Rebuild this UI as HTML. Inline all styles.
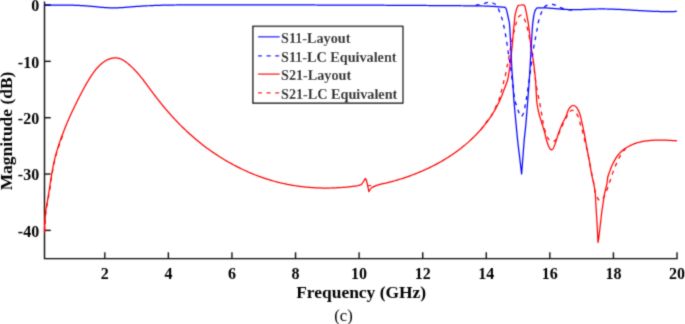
<!DOCTYPE html>
<html><head><meta charset="utf-8"><style>
html,body{margin:0;padding:0;background:#fff;}
body{width:685px;height:324px;overflow:hidden;position:relative;font-family:"Liberation Serif",serif;}
svg{will-change:transform;}
</style></head><body>
<svg width="685" height="324" viewBox="0 0 685 324" style="position:absolute;left:0;top:0"><defs><filter id="bl" x="0" y="0" width="685" height="324" filterUnits="userSpaceOnUse"><feConvolveMatrix order="3" kernelMatrix="0.03 0.1 0.03 0.1 0.48 0.1 0.03 0.1 0.03" divisor="1" edgeMode="none" preserveAlpha="false"/></filter></defs><g filter="url(#bl)"><g stroke="#111111" stroke-width="1.4" fill="none"><path d="M44.5,2.2 L44.5,258.6 L677.0,258.6" stroke-linecap="square"/><line x1="104.80" y1="258.6" x2="104.80" y2="252.30"/><line x1="168.38" y1="258.6" x2="168.38" y2="252.30"/><line x1="231.96" y1="258.6" x2="231.96" y2="252.30"/><line x1="295.54" y1="258.6" x2="295.54" y2="252.30"/><line x1="359.12" y1="258.6" x2="359.12" y2="252.30"/><line x1="422.70" y1="258.6" x2="422.70" y2="252.30"/><line x1="486.28" y1="258.6" x2="486.28" y2="252.30"/><line x1="549.86" y1="258.6" x2="549.86" y2="252.30"/><line x1="613.44" y1="258.6" x2="613.44" y2="252.30"/><line x1="677.02" y1="258.6" x2="677.02" y2="252.30"/><line x1="44.5" y1="5.00" x2="50.80" y2="5.00"/><line x1="44.5" y1="61.35" x2="50.80" y2="61.35"/><line x1="44.5" y1="117.70" x2="50.80" y2="117.70"/><line x1="44.5" y1="174.05" x2="50.80" y2="174.05"/><line x1="44.5" y1="230.40" x2="50.80" y2="230.40"/></g><g fill="none" stroke-linejoin="round" stroke-linecap="butt" stroke-width="1.25"><path d="M368.3,185.7 L371.2,185.5" stroke="#ff0000"/><path d="M480.60,130.00 C481.50,128.75 484.37,124.62 486.00,122.50 C487.63,120.38 488.98,119.47 490.40,117.30 C491.82,115.13 493.08,112.38 494.50,109.50 C495.92,106.62 497.78,102.92 498.90,100.00 C500.02,97.08 500.42,94.97 501.20,92.00 C501.98,89.03 502.88,85.07 503.60,82.20 C504.32,79.33 504.88,77.58 505.50,74.80 C506.12,72.02 506.75,68.33 507.30,65.50 C507.85,62.67 508.27,60.72 508.80,57.80 C509.33,54.88 509.97,50.97 510.50,48.00 C511.03,45.03 511.48,42.50 512.00,40.00 C512.52,37.50 513.07,35.17 513.60,33.00 C514.13,30.83 514.75,28.73 515.20,27.00 C515.65,25.27 515.82,24.17 516.30,22.60 C516.78,21.03 517.48,18.77 518.10,17.60 C518.72,16.43 519.43,16.00 520.00,15.60 C520.57,15.20 521.00,15.08 521.50,15.20 C522.00,15.32 522.52,15.62 523.00,16.30 C523.48,16.98 523.92,18.18 524.40,19.30 C524.88,20.42 525.37,21.38 525.90,23.00 C526.43,24.62 527.03,26.67 527.60,29.00 C528.17,31.33 528.65,33.50 529.30,37.00 C529.95,40.50 530.80,45.50 531.50,50.00 C532.20,54.50 532.92,59.67 533.50,64.00 C534.08,68.33 534.48,72.12 535.00,76.00 C535.52,79.88 536.07,84.05 536.60,87.30 C537.13,90.55 537.68,92.92 538.20,95.50 C538.72,98.08 539.23,100.38 539.70,102.80 C540.17,105.22 540.55,107.47 541.00,110.00 C541.45,112.53 541.92,115.17 542.40,118.00 C542.88,120.83 543.02,123.70 543.90,127.00 C544.78,130.30 546.60,135.50 547.70,137.80 C548.80,140.10 549.60,140.17 550.50,140.80 C551.40,141.43 552.35,141.65 553.10,141.60 C553.85,141.55 554.35,141.13 555.00,140.50 C555.65,139.87 555.77,140.32 557.00,137.80 C558.23,135.28 560.73,129.00 562.40,125.40 C564.07,121.80 565.87,118.38 567.00,116.20 C568.13,114.02 568.38,113.27 569.20,112.30 C570.02,111.33 570.93,110.58 571.90,110.40 C572.87,110.22 573.97,110.17 575.00,111.20 C576.03,112.23 577.20,114.42 578.10,116.60 C579.00,118.78 579.63,121.73 580.40,124.30 C581.17,126.87 581.93,129.17 582.70,132.00 C583.47,134.83 584.20,137.97 585.00,141.30 C585.80,144.63 586.67,148.10 587.50,152.00 C588.33,155.90 589.25,160.87 590.00,164.70 C590.75,168.53 591.35,171.73 592.00,175.00 C592.65,178.27 593.35,181.38 593.90,184.30 C594.45,187.22 594.68,190.20 595.30,192.50 C595.92,194.80 596.90,196.78 597.60,198.10 C598.30,199.42 598.88,199.98 599.50,200.40 C600.12,200.82 600.63,201.03 601.30,200.60 C601.97,200.17 602.80,198.98 603.50,197.80 C604.20,196.62 604.87,194.97 605.50,193.50 C606.13,192.03 606.75,190.50 607.30,189.00 C607.85,187.50 608.27,186.08 608.80,184.50 C609.33,182.92 609.73,181.75 610.50,179.50 C611.27,177.25 612.35,173.78 613.40,171.00 C614.45,168.22 615.62,165.40 616.80,162.80 C617.98,160.20 619.13,157.67 620.50,155.40 C621.87,153.13 623.42,150.80 625.00,149.20 C626.58,147.60 629.17,146.37 630.00,145.80" stroke="#ff0000" stroke-dasharray="4 4.6"/><path d="M44.75,232.50 C44.78,231.42 44.87,228.08 44.95,226.00 C45.03,223.92 45.08,222.33 45.25,220.00 C45.42,217.67 45.68,214.33 45.95,212.00 C46.22,209.67 46.52,208.00 46.85,206.00 C47.18,204.00 47.62,201.83 47.95,200.00 C48.28,198.17 48.52,196.95 48.85,195.00 C49.18,193.05 49.65,190.37 49.95,188.30 C50.25,186.23 50.32,184.92 50.65,182.60 C50.98,180.28 51.58,176.50 51.95,174.40 C52.32,172.30 52.52,171.73 52.85,170.00 C53.18,168.27 53.50,166.17 53.95,164.00 C54.40,161.83 55.05,159.00 55.55,157.00 C56.05,155.00 56.45,153.67 56.95,152.00 C57.45,150.33 57.87,149.00 58.55,147.00 C59.23,145.00 60.33,142.08 61.05,140.00 C61.77,137.92 62.55,135.42 62.85,134.50" stroke="#ff0000" stroke-dasharray="4 4.6"/><path d="M44.40,232.50 L44.44,231.26 L44.47,230.07 L44.51,228.92 L44.55,227.82 L44.59,226.76 L44.63,225.75 L44.67,224.77 L44.71,223.84 L44.75,222.94 L44.79,222.08 L44.83,221.26 L44.87,220.47 L44.91,219.72 L44.96,218.99 L45.02,217.97 L45.09,217.01 L45.15,216.11 L45.22,215.27 L45.29,214.49 L45.36,213.75 L45.46,212.84 L45.56,212.00 L45.66,211.22 L45.76,210.49 L45.89,209.64 L46.03,208.83 L46.17,208.05 L46.32,207.27 L46.46,206.49 L46.62,205.67 L46.78,204.82 L46.90,204.11 L47.04,203.37 L47.17,202.61 L47.31,201.82 L47.45,201.01 L47.60,200.16 L47.75,199.29 L47.90,198.39 L48.01,197.69 L48.13,196.98 L48.25,196.25 L48.37,195.50 L48.50,194.73 L48.63,193.94 L48.75,193.13 L48.89,192.31 L49.02,191.46 L49.15,190.60 L49.29,189.71 L49.43,188.80 L49.58,187.88 L49.72,186.93 L49.87,185.96 L50.02,184.97 L50.17,183.97 L50.33,182.95 L50.49,181.91 L50.60,181.22 L50.70,180.52 L50.81,179.81 L50.92,179.10 L51.04,178.39 L51.15,177.68 L51.27,176.96 L51.38,176.24 L51.50,175.51 L51.62,174.79 L51.74,174.07 L51.86,173.34 L51.98,172.62 L52.11,171.90 L52.23,171.17 L52.36,170.45 L52.49,169.73 L52.62,169.02 L52.75,168.31 L52.89,167.60 L53.02,166.89 L53.16,166.19 L53.30,165.49 L53.43,164.80 L53.65,163.78 L53.86,162.77 L54.08,161.77 L54.31,160.78 L54.54,159.81 L54.77,158.85 L55.00,157.89 L55.24,156.95 L55.49,156.01 L55.74,155.08 L55.99,154.15 L56.24,153.23 L56.51,152.31 L56.77,151.40 L57.04,150.48 L57.32,149.57 L57.60,148.66 L57.88,147.74 L58.17,146.83 L58.40,146.12 L58.67,145.30 L58.97,144.37 L59.28,143.44 L59.60,142.51 L59.92,141.58 L60.24,140.64 L60.57,139.69 L60.91,138.74 L61.25,137.79 L61.60,136.83 L61.95,135.87 L62.32,134.90 L62.68,133.92 L63.06,132.94 L63.31,132.28 L63.56,131.62 L63.82,130.96 L64.08,130.30 L64.35,129.63 L64.62,128.96 L64.89,128.28 L65.16,127.60 L65.44,126.92 L65.72,126.24 L66.00,125.55 L66.29,124.86 L66.58,124.17 L66.87,123.47 L67.17,122.77 L67.47,122.07 L67.77,121.36 L68.08,120.65 L68.39,119.93 L68.71,119.21 L69.02,118.49 L69.34,117.76 L69.67,117.03 L70.00,116.29 L70.33,115.56 L70.67,114.81 L71.01,114.07 L71.35,113.31 L71.70,112.56 L72.06,111.80 L72.40,111.06 L72.77,110.26 L73.14,109.49 L73.51,108.71 L73.88,107.93 L74.26,107.14 L74.64,106.35 L75.03,105.55 L75.40,104.79 L75.82,103.94 L76.22,103.12 L76.62,102.31 L77.03,101.48 L77.40,100.74 L77.86,99.82 L78.29,98.98 L78.72,98.14 L79.15,97.29 L79.59,96.43 L80.03,95.57 L80.40,94.86 L80.94,93.83 L81.40,92.96 L81.86,92.07 L82.33,91.18 L82.81,90.29 L83.29,89.39 L83.77,88.48 L84.27,87.57 L84.77,86.66 L85.27,85.75 L85.78,84.84 L86.29,83.92 L86.82,83.01 L87.34,82.10 L87.88,81.20 L88.40,80.32 L88.96,79.40 L89.40,78.69 L89.79,78.06 L90.36,77.18 L90.92,76.31 L91.40,75.59 L92.08,74.59 L92.67,73.74 L93.27,72.91 L93.87,72.09 L94.40,71.39 L95.09,70.49 L95.72,69.72 L96.35,68.96 L96.98,68.21 L97.63,67.49 L98.28,66.78 L98.94,66.10 L99.61,65.43 L100.29,64.79 L100.97,64.16 L101.66,63.57 L102.36,62.99 L103.07,62.44 L103.78,61.92 L104.40,61.50 L105.24,60.96 L105.98,60.52 L106.73,60.12 L107.40,59.78 L108.25,59.39 L109.03,59.08 L109.81,58.80 L110.61,58.56 L111.40,58.35 L112.22,58.17 L113.04,58.04 L113.88,57.94 L114.72,57.89 L115.57,57.89 L116.40,57.93 L117.30,58.03 L118.18,58.19 L119.07,58.41 L119.97,58.69 L120.88,59.03 L121.80,59.45 L122.73,59.93 L123.40,60.31 L124.15,60.78 L125.11,61.42 L126.08,62.12 L127.06,62.88 L128.06,63.68 L129.06,64.53 L130.08,65.43 L131.11,66.37 L131.63,66.85 L132.15,67.35 L132.67,67.86 L133.20,68.39 L133.73,68.92 L134.26,69.47 L134.80,70.03 L135.34,70.60 L135.88,71.18 L136.40,71.75 L136.98,72.39 L137.53,73.01 L138.09,73.65 L138.65,74.29 L139.21,74.96 L139.77,75.63 L140.34,76.32 L140.91,77.03 L141.40,77.63 L142.07,78.47 L142.65,79.22 L143.23,79.98 L143.82,80.75 L144.40,81.51 L145.01,82.32 L145.61,83.12 L146.21,83.92 L146.82,84.74 L147.40,85.53 L148.04,86.40 L148.65,87.23 L149.27,88.07 L149.90,88.92 L150.40,89.60 L151.15,90.62 L151.79,91.47 L152.40,92.29 L153.07,93.18 L153.71,94.04 L154.36,94.89 L155.01,95.75 L155.67,96.61 L156.33,97.46 L156.99,98.32 L157.66,99.18 L158.33,100.03 L159.01,100.89 L159.69,101.74 L160.37,102.60 L161.06,103.45 L161.75,104.30 L162.40,105.10 L163.15,106.01 L163.85,106.86 L164.40,107.52 L165.27,108.55 L165.98,109.40 L166.70,110.24 L167.40,111.05 L168.16,111.92 L168.89,112.76 L169.40,113.35 L170.37,114.44 L171.11,115.27 L171.86,116.10 L172.40,116.70 L173.37,117.76 L174.13,118.58 L174.90,119.41 L175.40,119.94 L176.40,121.00 L177.23,121.86 L178.01,122.68 L178.80,123.49 L179.40,124.10 L180.39,125.10 L181.20,125.90 L182.00,126.70 L182.81,127.50 L183.40,128.07 L184.40,129.03 L185.28,129.87 L186.11,130.66 L186.95,131.44 L187.79,132.22 L188.40,132.78 L189.40,133.69 L190.34,134.54 L191.20,135.30 L192.06,136.06 L192.93,136.82 L193.81,137.58 L194.40,138.09 L195.40,138.93 L196.40,139.77 L197.36,140.57 L198.26,141.31 L199.17,142.04 L200.08,142.78 L200.99,143.50 L201.92,144.23 L202.84,144.95 L203.40,145.38 L204.40,146.14 L205.40,146.90 L206.40,147.64 L207.40,148.38 L208.40,149.11 L209.40,149.83 L210.40,150.54 L211.40,151.25 L212.40,151.94 L213.40,152.63 L214.39,153.30 L215.39,153.97 L216.40,154.64 L217.40,155.30 L218.40,155.94 L219.40,156.58 L220.40,157.21 L221.40,157.84 L222.40,158.46 L223.40,159.07 L224.40,159.67 L225.40,160.26 L226.40,160.85 L227.40,161.43 L228.40,162.01 L229.40,162.57 L230.40,163.13 L231.09,163.51 L232.18,164.11 L233.28,164.71 L234.39,165.30 L235.40,165.83 L236.40,166.35 L237.40,166.86 L238.40,167.37 L239.40,167.87 L240.03,168.18 L241.18,168.74 L242.33,169.29 L243.40,169.80 L244.40,170.27 L245.40,170.73 L246.40,171.18 L247.40,171.63 L248.20,171.98 L249.39,172.49 L250.40,172.93 L251.40,173.35 L252.40,173.76 L253.40,174.17 L254.24,174.50 L255.40,174.96 L256.40,175.35 L257.40,175.73 L258.40,176.11 L259.19,176.40 L260.40,176.84 L261.40,177.20 L262.40,177.55 L263.40,177.89 L264.27,178.19 L265.40,178.56 L266.40,178.89 L267.40,179.21 L268.15,179.44 L269.40,179.83 L270.40,180.13 L271.40,180.42 L272.10,180.62 L273.40,180.99 L274.40,181.27 L275.40,181.54 L276.12,181.73 L277.40,182.07 L278.40,182.32 L279.40,182.57 L280.21,182.76 L281.40,183.04 L282.40,183.27 L283.40,183.50 L284.37,183.71 L285.40,183.93 L286.40,184.14 L287.18,184.29 L288.40,184.53 L289.40,184.72 L290.40,184.91 L291.40,185.09 L292.40,185.26 L293.40,185.43 L294.36,185.58 L295.40,185.75 L296.40,185.90 L297.29,186.03 L298.40,186.18 L299.40,186.32 L300.25,186.43 L301.40,186.58 L302.40,186.69 L303.25,186.79 L304.40,186.92 L305.40,187.02 L306.28,187.11 L307.40,187.21 L308.40,187.30 L309.34,187.38 L310.40,187.46 L311.40,187.54 L312.40,187.60 L313.40,187.67 L314.40,187.73 L315.40,187.78 L316.40,187.83 L317.17,187.86 L318.40,187.91 L319.40,187.94 L320.36,187.97 L321.40,187.99 L322.40,188.01 L323.40,188.03 L324.40,188.04 L325.22,188.04 L326.40,188.04 L327.40,188.04 L328.40,188.03 L329.40,188.02 L330.16,188.00 L331.40,187.97 L332.40,187.95 L333.40,187.92 L334.40,187.88 L335.19,187.85 L336.40,187.79 L337.40,187.74 L338.40,187.69 L339.40,187.63 L340.31,187.57 L341.40,187.50 L342.40,187.43 L343.40,187.35 L344.40,187.27 L345.40,187.19 L346.40,187.10 L347.27,187.02 L348.40,186.91 L349.40,186.81 L350.40,186.70 L351.40,186.59 L352.40,186.48 L353.40,186.36 L354.39,186.24 L355.40,186.11 L356.20,186.01 C357.03,185.78 360.37,184.92 361.20,184.70 C361.58,184.17 362.80,182.53 363.50,181.50 C364.20,180.47 365.08,179.00 365.40,178.50 C365.60,178.88 366.02,178.62 366.60,180.80 C367.18,182.98 368.52,189.80 368.90,191.60 C369.28,191.02 370.10,189.07 371.20,188.10 C372.30,187.13 374.03,186.42 375.50,185.80 C376.97,185.18 378.25,184.85 380.00,184.40 C381.75,183.95 385.00,183.32 386.00,183.10 L387.47,182.73 L388.94,182.35 L390.41,181.97 L391.87,181.57 L393.34,181.16 L394.80,180.75 L396.27,180.33 L397.73,179.89 L399.19,179.45 L400.64,178.99 L402.10,178.53 L403.55,178.06 L405.00,177.58 L406.45,177.08 L407.89,176.58 L409.33,176.07 L410.77,175.55 L412.21,175.02 L413.64,174.47 L415.07,173.92 L416.49,173.36 L417.91,172.79 L419.33,172.20 L420.74,171.61 L422.15,171.00 L423.55,170.39 L424.95,169.76 L426.35,169.13 L427.74,168.48 L429.12,167.82 L430.50,167.16 L431.87,166.48 L433.24,165.79 L434.60,165.09 L435.96,164.37 L437.31,163.65 L438.66,162.92 L439.99,162.17 L441.32,161.42 L442.65,160.65 L443.97,159.87 L445.28,159.08 L446.58,158.28 L447.88,157.47 L449.17,156.64 L450.45,155.81 L451.72,154.96 L452.99,154.10 L454.25,153.23 L455.50,152.35 L456.74,151.45 L457.97,150.55 L459.19,149.63 L460.40,148.70 L461.61,147.76 L462.80,146.81 L463.98,145.85 L465.16,144.87 L466.32,143.89 L467.48,142.89 L468.62,141.88 L469.75,140.86 L470.87,139.83 L471.98,138.79 L473.08,137.74 L474.16,136.67 L475.24,135.60 L476.30,134.51 L477.35,133.41 L478.38,132.30 L479.41,131.18 L480.42,130.05 L481.41,128.90 L482.40,127.75 L483.37,126.58 L484.32,125.40 L485.26,124.21 L486.19,123.01 L487.10,121.80 L488.00,120.58 L488.88,119.35 L489.75,118.10 L490.61,116.85 L491.44,115.58 L492.26,114.30 L493.07,113.01 L493.86,111.72 L494.63,110.40 L495.39,109.08 L496.12,107.75 L496.85,106.41 L497.55,105.05 L498.24,103.68 L498.91,102.31 L499.56,100.92 L500.19,99.52 L500.81,98.11 L501.40,96.69 L501.98,95.26 L502.54,93.82 L503.08,92.36 L503.60,90.90 C504.27,89.08 506.63,83.48 507.60,80.00 C508.57,76.52 508.82,73.97 509.40,70.00 C509.98,66.03 510.58,60.70 511.10,56.20 C511.62,51.70 512.10,47.37 512.50,43.00 C512.90,38.63 513.22,33.17 513.50,30.00 C513.78,26.83 513.97,26.28 514.20,24.00 C514.43,21.72 514.65,18.20 514.90,16.30 C515.15,14.40 515.38,13.90 515.70,12.60 C516.02,11.30 516.40,9.68 516.80,8.50 C517.20,7.32 517.88,6.00 518.10,5.50 C518.58,5.42 520.00,5.08 521.00,5.00 C522.00,4.92 523.58,5.00 524.10,5.00 C524.28,5.40 524.83,6.13 525.20,7.40 C525.57,8.67 525.95,10.87 526.30,12.60 C526.65,14.33 526.95,15.90 527.30,17.80 C527.65,19.70 528.08,21.97 528.40,24.00 C528.72,26.03 528.90,27.33 529.20,30.00 C529.50,32.67 529.80,36.67 530.20,40.00 C530.60,43.33 531.10,46.67 531.60,50.00 C532.10,53.33 532.72,56.67 533.20,60.00 C533.68,63.33 534.12,66.67 534.50,70.00 C534.88,73.33 535.23,76.67 535.50,80.00 C535.77,83.33 535.93,87.17 536.10,90.00 C536.27,92.83 536.37,94.83 536.50,97.00 C536.63,99.17 536.72,101.33 536.90,103.00 C537.08,104.67 537.35,105.67 537.60,107.00 C537.85,108.33 538.07,109.50 538.40,111.00 C538.73,112.50 539.18,114.50 539.60,116.00 C540.02,117.50 540.43,118.50 540.90,120.00 C541.37,121.50 541.90,123.35 542.40,125.00 C542.90,126.65 543.42,128.23 543.90,129.90 C544.38,131.57 544.88,133.35 545.30,135.00 C545.72,136.65 545.82,137.85 546.40,139.80 C546.98,141.75 548.07,145.07 548.80,146.70 C549.53,148.33 550.05,149.30 550.80,149.60 C551.55,149.90 552.47,149.82 553.30,148.50 C554.13,147.18 554.90,144.32 555.80,141.70 C556.70,139.08 557.72,135.60 558.70,132.80 C559.68,130.00 560.48,127.62 561.70,124.90 C562.92,122.18 564.93,118.90 566.00,116.50 C567.07,114.10 567.37,112.08 568.10,110.50 C568.83,108.92 569.50,107.83 570.40,107.00 C571.30,106.17 572.47,105.45 573.50,105.50 C574.53,105.55 575.57,105.97 576.60,107.30 C577.63,108.63 578.80,110.92 579.70,113.50 C580.60,116.08 581.23,119.45 582.00,122.80 C582.77,126.15 583.58,129.90 584.30,133.60 C585.02,137.30 585.73,141.88 586.30,145.00 C586.87,148.12 587.08,149.02 587.70,152.30 C588.32,155.58 589.32,160.92 590.00,164.70 C590.68,168.48 591.15,171.73 591.80,175.00 C592.45,178.27 593.32,181.22 593.90,184.30 C594.48,187.38 594.97,190.05 595.30,193.50 C595.63,196.95 595.62,200.25 595.90,205.00 C596.18,209.75 596.65,215.77 597.00,222.00 C597.35,228.23 597.83,239.00 598.00,242.40 C598.15,241.48 598.28,241.83 598.90,236.90 C599.52,231.97 600.97,218.62 601.70,212.80 C602.43,206.98 602.85,205.08 603.30,202.00 C603.75,198.92 603.82,197.25 604.40,194.30 C604.98,191.35 606.23,187.18 606.80,184.30 C607.37,181.42 607.28,179.23 607.80,177.00 C608.32,174.77 609.15,172.95 609.90,170.90 C610.65,168.85 611.28,166.87 612.30,164.70 C613.32,162.53 615.38,159.03 616.00,157.90 L616.94,156.54 L617.91,155.25 L618.94,154.03 L620.00,152.87 L621.10,151.78 L622.24,150.74 L623.41,149.77 L624.62,148.85 L625.86,147.99 L627.14,147.19 L628.44,146.43 L629.77,145.73 L631.13,145.08 L632.52,144.48 L633.93,143.92 L635.36,143.41 L636.81,142.94 L638.28,142.52 L639.77,142.13 L641.28,141.79 L642.80,141.48 L644.34,141.20 L645.88,140.96 L647.44,140.76 L649.00,140.58 L650.58,140.43 L652.16,140.31 L653.74,140.22 L655.33,140.15 L656.92,140.10 L658.50,140.07 L660.09,140.06 L661.67,140.07 L663.25,140.10 L664.82,140.14 L666.39,140.19 L667.94,140.26 L669.49,140.33 L671.02,140.42 L672.54,140.51 L674.04,140.60 L675.53,140.70 L677.00,140.80" stroke="#ff0000"/><path d="M475.50,5.30 C476.08,5.18 477.53,4.90 479.00,4.60 C480.47,4.30 482.93,3.83 484.30,3.50 C485.67,3.17 486.33,2.80 487.20,2.60 C488.07,2.40 488.72,2.30 489.50,2.30 C490.28,2.30 491.02,2.30 491.90,2.60 C492.78,2.90 493.83,3.37 494.80,4.10 C495.77,4.83 496.95,5.80 497.70,7.00 C498.45,8.20 498.72,9.75 499.30,11.30 C499.88,12.85 500.70,14.92 501.20,16.30 C501.70,17.68 501.90,18.15 502.30,19.60 C502.70,21.05 503.12,22.77 503.60,25.00 C504.08,27.23 504.70,30.33 505.20,33.00 C505.70,35.67 506.15,38.17 506.60,41.00 C507.05,43.83 507.45,47.00 507.90,50.00 C508.35,53.00 508.85,56.00 509.30,59.00 C509.75,62.00 510.17,64.83 510.60,68.00 C511.03,71.17 511.45,74.50 511.90,78.00 C512.35,81.50 512.82,85.33 513.30,89.00 C513.78,92.67 514.13,96.90 514.80,100.00 C515.47,103.10 516.63,105.55 517.30,107.60 C517.97,109.65 518.18,110.80 518.80,112.30 C519.42,113.80 520.25,116.38 521.00,116.60 C521.75,116.82 522.62,115.37 523.30,113.60 C523.98,111.83 524.62,108.27 525.10,106.00 C525.58,103.73 525.78,102.50 526.20,100.00 C526.62,97.50 527.13,94.17 527.60,91.00 C528.07,87.83 528.52,84.50 529.00,81.00 C529.48,77.50 530.00,73.67 530.50,70.00 C531.00,66.33 531.48,62.67 532.00,59.00 C532.52,55.33 533.02,51.50 533.60,48.00 C534.18,44.50 534.88,41.33 535.50,38.00 C536.12,34.67 536.82,30.67 537.30,28.00 C537.78,25.33 538.05,23.62 538.40,22.00 C538.75,20.38 539.03,19.53 539.40,18.30 C539.77,17.07 540.17,15.73 540.60,14.60 C541.03,13.47 541.53,12.47 542.00,11.50 C542.47,10.53 542.93,9.62 543.40,8.80 C543.87,7.98 544.17,7.22 544.80,6.60 C545.43,5.98 546.30,5.47 547.20,5.10 C548.10,4.73 549.32,4.53 550.20,4.40 C551.08,4.27 551.77,4.23 552.50,4.30 C553.23,4.37 553.92,4.55 554.60,4.80 C555.28,5.05 555.83,5.42 556.60,5.80 C557.37,6.18 558.32,6.70 559.20,7.10 C560.08,7.50 560.87,7.83 561.90,8.20 C562.93,8.57 564.43,9.05 565.40,9.30 C566.37,9.55 566.15,9.53 567.70,9.70 C569.25,9.87 573.53,10.20 574.70,10.30" stroke="#0000ff" stroke-dasharray="4 4.6"/><path d="M44.40,5.00 L45.91,5.00 L47.42,5.00 L48.93,5.00 L50.44,5.01 L51.95,5.01 L53.46,5.01 L54.97,5.01 L56.48,5.01 L57.99,5.02 L59.50,5.02 L61.01,5.03 L62.52,5.04 L64.02,5.06 L65.53,5.08 L67.04,5.10 L68.55,5.12 L70.06,5.16 L71.57,5.19 L73.08,5.23 L74.58,5.28 L76.09,5.33 L77.60,5.39 L79.11,5.46 L80.61,5.53 L82.12,5.62 L83.62,5.71 L85.13,5.80 L86.64,5.91 L88.14,6.03 L89.65,6.15 L91.15,6.29 L92.65,6.43 L94.16,6.58 L95.66,6.73 L97.16,6.88 L98.67,7.03 L100.17,7.18 L101.68,7.31 L103.18,7.44 L104.68,7.55 L106.19,7.65 L107.69,7.73 L109.20,7.79 L110.70,7.83 L112.21,7.86 L113.72,7.86 L115.22,7.85 L116.73,7.81 L118.24,7.76 L119.74,7.70 L121.25,7.61 L122.75,7.52 L124.26,7.41 L125.77,7.30 L127.27,7.18 L128.78,7.06 L130.28,6.94 L131.79,6.82 L133.29,6.71 L134.80,6.60 L136.31,6.49 L137.81,6.38 L139.32,6.28 L140.82,6.18 L142.33,6.08 L143.84,5.99 L145.34,5.91 L146.85,5.82 L148.36,5.75 L149.86,5.67 L151.37,5.60 L152.88,5.54 L154.39,5.48 L155.89,5.42 L157.40,5.37 L158.91,5.32 L160.42,5.28 L161.93,5.24 L163.43,5.20 L164.94,5.16 L166.45,5.13 L167.96,5.10 L169.47,5.08 L170.98,5.05 L172.49,5.03 L174.00,5.02 L175.51,5.00 L177.02,4.99 L178.52,4.97 L180.03,4.96 L181.54,4.95 L183.05,4.95 L184.56,4.94 L186.07,4.94 L187.58,4.93 L189.09,4.93 L190.60,4.93 L192.11,4.93 L193.62,4.93 L195.13,4.93 L196.64,4.93 L198.15,4.93 L199.66,4.93 L201.17,4.93 L202.68,4.93 L204.19,4.93 L205.70,4.93 L207.21,4.93 L208.72,4.94 L210.23,4.94 L211.74,4.94 L213.25,4.94 L214.76,4.94 L216.27,4.94 L217.78,4.94 L219.29,4.94 L220.80,4.94 L222.31,4.94 L223.82,4.94 L225.33,4.94 L226.84,4.94 L228.34,4.94 L229.85,4.94 L231.36,4.94 L232.87,4.94 L234.38,4.94 L235.89,4.94 L237.40,4.94 L238.91,4.94 L240.42,4.94 L241.93,4.94 L243.44,4.94 L244.95,4.94 L246.46,4.94 L247.97,4.94 L249.48,4.94 L250.99,4.94 L252.50,4.94 L254.00,4.94 L255.51,4.94 L257.02,4.94 L258.53,4.94 L260.04,4.94 L261.55,4.94 L263.06,4.94 L264.57,4.94 L266.08,4.94 L267.59,4.95 L269.10,4.95 L270.61,4.95 L272.12,4.95 L273.63,4.95 L275.13,4.95 L276.64,4.95 L278.15,4.95 L279.66,4.95 L281.17,4.95 L282.68,4.95 L284.19,4.95 L285.70,4.96 L287.21,4.96 L288.72,4.96 L290.23,4.96 L291.74,4.96 L293.25,4.96 L294.75,4.96 L296.26,4.97 L297.77,4.97 L299.28,4.97 L300.79,4.97 L302.30,4.97 L303.81,4.98 L305.32,4.98 L306.83,4.98 L308.34,4.98 L309.85,4.98 L311.36,4.99 L312.87,4.99 L314.37,4.99 L315.88,5.00 L317.39,5.00 L318.90,5.00 L320.41,5.00 L321.92,5.01 L323.43,5.01 L324.94,5.02 L326.45,5.02 L327.96,5.02 L329.47,5.03 L330.98,5.03 L332.49,5.04 L334.00,5.04 L335.50,5.04 L337.01,5.05 L338.52,5.05 L340.03,5.06 L341.54,5.06 L343.05,5.07 L344.56,5.07 L346.07,5.08 L347.58,5.08 L349.09,5.09 L350.60,5.09 L352.11,5.10 L353.62,5.11 L355.13,5.11 L356.64,5.12 L358.15,5.12 L359.65,5.13 L361.16,5.14 L362.67,5.14 L364.18,5.15 L365.69,5.16 L367.20,5.16 L368.71,5.17 L370.22,5.18 L371.73,5.18 L373.24,5.19 L374.75,5.20 L376.26,5.20 L377.77,5.21 L379.28,5.22 L380.79,5.23 L382.30,5.23 L383.81,5.24 L385.31,5.25 L386.82,5.26 L388.33,5.27 L389.84,5.27 L391.35,5.28 L392.86,5.29 L394.37,5.30 L395.88,5.31 L397.39,5.32 L398.90,5.32 L400.41,5.33 L401.92,5.34 L403.43,5.35 L404.94,5.36 L406.45,5.37 L407.96,5.38 L409.47,5.39 L410.98,5.40 L412.48,5.41 L413.99,5.42 L415.50,5.43 L417.01,5.43 L418.52,5.44 L420.03,5.45 L421.54,5.46 L423.05,5.47 L424.56,5.48 L426.07,5.49 L427.58,5.50 L429.09,5.51 L430.60,5.52 L432.11,5.53 L433.62,5.55 L435.13,5.56 L436.64,5.57 L438.15,5.58 L439.65,5.59 L441.16,5.60 L442.67,5.61 L444.18,5.62 L445.69,5.63 L447.20,5.64 L448.71,5.65 L450.22,5.66 L451.73,5.67 L453.24,5.69 L454.75,5.70 L456.26,5.71 L457.77,5.72 L459.28,5.73 L460.79,5.74 L462.29,5.75 L463.80,5.77 L465.31,5.78 L466.82,5.79 L468.33,5.80 L469.84,5.81 L471.35,5.82 L472.86,5.84 L474.37,5.85 L475.88,5.87 L477.39,5.89 L478.90,5.91 L480.40,5.93 L481.91,5.96 L483.42,6.00 L484.93,6.04 L486.44,6.08 L487.95,6.14 L489.45,6.20 L490.96,6.27 L492.47,6.35 L493.98,6.44 L495.48,6.54 L496.99,6.65 L498.49,6.77 L500.00,6.90 C500.88,6.98 504.42,7.32 505.30,7.40 C505.48,7.77 506.03,8.48 506.40,9.60 C506.77,10.72 507.13,12.48 507.50,14.10 C507.87,15.72 508.27,17.65 508.60,19.30 C508.93,20.95 509.23,21.38 509.50,24.00 C509.77,26.62 510.00,31.50 510.20,35.00 C510.40,38.50 510.52,41.17 510.70,45.00 C510.88,48.83 511.10,53.83 511.30,58.00 C511.50,62.17 511.65,66.00 511.90,70.00 C512.15,74.00 512.47,77.00 512.80,82.00 C513.13,87.00 513.42,93.67 513.90,100.00 C514.38,106.33 515.08,113.33 515.70,120.00 C516.32,126.67 516.95,133.83 517.60,140.00 C518.25,146.17 518.93,151.33 519.60,157.00 C520.27,162.67 521.27,171.17 521.60,174.00 C521.83,171.00 522.57,161.67 523.00,156.00 C523.43,150.33 523.73,145.17 524.20,140.00 C524.67,134.83 525.20,131.67 525.80,125.00 C526.40,118.33 527.22,107.50 527.80,100.00 C528.38,92.50 528.90,85.83 529.30,80.00 C529.70,74.17 529.92,70.00 530.20,65.00 C530.48,60.00 530.73,54.83 531.00,50.00 C531.27,45.17 531.52,40.33 531.80,36.00 C532.08,31.67 532.37,27.40 532.70,24.00 C533.03,20.60 533.50,17.50 533.80,15.60 C534.10,13.70 534.20,13.60 534.50,12.60 C534.80,11.60 535.17,10.40 535.60,9.60 C536.03,8.80 536.85,8.10 537.10,7.80 C538.70,7.82 545.10,7.88 546.70,7.90 L548.24,8.04 L549.77,8.17 L551.30,8.31 L552.83,8.45 L554.36,8.59 L555.89,8.72 L557.42,8.85 L558.95,8.97 L560.47,9.09 L562.00,9.20 L563.52,9.30 L565.05,9.39 L566.57,9.48 L568.10,9.55 L569.62,9.60 L571.15,9.65 L572.67,9.68 L574.20,9.69 L575.73,9.69 L577.25,9.67 L578.78,9.64 L580.31,9.60 L581.84,9.55 L583.37,9.49 L584.90,9.43 L586.43,9.36 L587.96,9.29 L589.49,9.23 L591.02,9.17 L592.56,9.11 L594.09,9.06 L595.62,9.03 L597.16,9.00 L598.69,8.98 L600.22,8.96 L601.76,8.96 L603.29,8.97 L604.82,8.98 L606.36,9.00 L607.89,9.03 L609.42,9.06 L610.96,9.11 L612.49,9.15 L614.02,9.21 L615.56,9.27 L617.09,9.33 L618.62,9.40 L620.15,9.48 L621.69,9.56 L623.22,9.64 L624.75,9.72 L626.28,9.81 L627.82,9.90 L629.35,9.99 L630.88,10.08 L632.41,10.17 L633.95,10.27 L635.48,10.36 L637.01,10.45 L638.54,10.55 L640.08,10.64 L641.61,10.73 L643.14,10.81 L644.68,10.90 L646.21,10.98 L647.74,11.06 L649.27,11.14 L650.81,11.21 L652.34,11.28 L653.87,11.34 L655.41,11.39 L656.94,11.45 L658.48,11.49 L660.01,11.53 L661.54,11.56 L663.08,11.58 L664.61,11.60 L666.15,11.61 L667.68,11.61 L669.22,11.60 L670.76,11.58 L672.29,11.55 L673.83,11.51 L675.36,11.46 L676.90,11.40" stroke="#0000ff"/></g><line x1="44.5" y1="5.00" x2="50.80" y2="5.00" stroke="#111111" stroke-width="1.4" opacity="0.45"/><g font-family="Liberation Serif" font-weight="bold" font-size="16" fill="#000000"><text x="104.80" y="278.6" text-anchor="middle">2</text><text x="168.38" y="278.6" text-anchor="middle">4</text><text x="231.96" y="278.6" text-anchor="middle">6</text><text x="295.54" y="278.6" text-anchor="middle">8</text><text x="359.12" y="278.6" text-anchor="middle">10</text><text x="422.70" y="278.6" text-anchor="middle">12</text><text x="486.28" y="278.6" text-anchor="middle">14</text><text x="549.86" y="278.6" text-anchor="middle">16</text><text x="613.44" y="278.6" text-anchor="middle">18</text><text x="677.02" y="278.6" text-anchor="middle">20</text><text x="39.2" y="11.30" text-anchor="end">0</text><text x="39.2" y="67.65" text-anchor="end">-10</text><text x="39.2" y="124.00" text-anchor="end">-20</text><text x="39.2" y="180.35" text-anchor="end">-30</text><text x="39.2" y="236.70" text-anchor="end">-40</text></g><text x="361.2" y="298.4" text-anchor="middle" font-family="Liberation Serif" font-weight="bold" font-size="17.45" fill="#000000">Frequency (GHz)</text><text transform="translate(12.4,131) rotate(-90)" x="0" y="0" text-anchor="middle" font-family="Liberation Serif" font-weight="bold" font-size="17.45" fill="#000000">Magnitude (dB)</text><text x="343.5" y="321.1" text-anchor="middle" font-family="Liberation Serif" font-size="16.6" fill="#000">(c)</text><rect x="253.0" y="26.4" width="149.8" height="76.7" fill="#fff" stroke="#111111" stroke-width="1.45"/><line x1="258" y1="36.7" x2="279.6" y2="36.7" stroke="#0000ff" stroke-width="1.5"/><text x="281" y="42.50" font-family="Liberation Serif" font-weight="bold" font-size="14.2" fill="#000000">S11-Layout</text><line x1="258" y1="55.7" x2="279.6" y2="55.7" stroke="#0000ff" stroke-width="1.5" stroke-dasharray="4 4.6"/><text x="281" y="61.50" font-family="Liberation Serif" font-weight="bold" font-size="14.2" fill="#000000">S11-LC Equivalent</text><line x1="258" y1="74.2" x2="279.6" y2="74.2" stroke="#ff0000" stroke-width="1.5"/><text x="281" y="80.00" font-family="Liberation Serif" font-weight="bold" font-size="14.2" fill="#000000">S21-Layout</text><line x1="258" y1="92.7" x2="279.6" y2="92.7" stroke="#ff0000" stroke-width="1.5" stroke-dasharray="4 4.6"/><text x="281" y="98.50" font-family="Liberation Serif" font-weight="bold" font-size="14.2" fill="#000000">S21-LC Equivalent</text></g></svg>
</body></html>
